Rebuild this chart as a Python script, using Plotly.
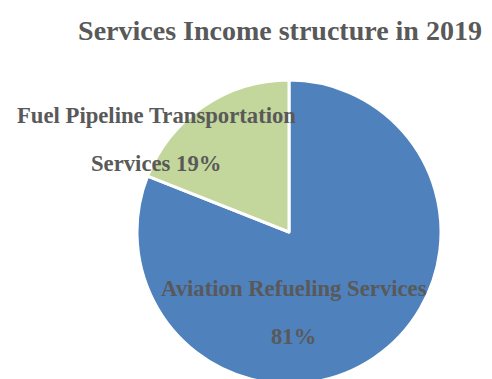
import plotly.graph_objects as go

# ---- data ----
labels = ["Aviation Refueling Services", "Fuel Pipeline Transportation Services"]
values = [81, 19]
colors = ["#4F81BD", "#C3D69B"]
label_line1 = ["Aviation Refueling Services", "Fuel Pipeline Transportation"]
label_line2 = ["81%", "Services 19%"]
title_text = "Services Income structure in 2019"

W, H = 492, 386
TXT = "#595959"
FONT = "Liberation Serif, Times New Roman, serif"

fig = go.Figure(go.Pie(
    labels=labels,
    values=values,
    marker=dict(colors=colors, line=dict(color="white", width=3)),
    sort=False,
    direction="clockwise",
    rotation=0,
    textinfo="none",
    hoverinfo="label+percent",
    showlegend=False,
    domain=dict(x=[137 / W, 441 / W], y=[(H - 384) / H, (H - 80) / H]),
))

# label positions (pixels from top-left) for line1 / line2 of each slice
pos1 = [(294, 288), (156, 116)]
pos2 = [(293, 336), (156, 164)]
anns = []
for i in range(len(labels)):
    for txt, (px, py) in ((label_line1[i], pos1[i]), (label_line2[i], pos2[i])):
        anns.append(dict(
            text=txt, x=px / W, y=(H - py) / H, xref="paper", yref="paper",
            xanchor="center", yanchor="middle", showarrow=False,
            font=dict(family=FONT, size=22.7, color=TXT, weight="bold"),
        ))

fig.update_layout(
    width=W, height=H,
    margin=dict(l=0, r=0, t=0, b=0),
    paper_bgcolor="white",
    plot_bgcolor="white",
    title=dict(text=title_text, x=280 / W, y=(H - 30) / H,
               xanchor="center", yanchor="middle",
               font=dict(family=FONT, size=28, color=TXT, weight="bold")),
    annotations=anns,
)

fig.write_html("out.html", post_script=(
    "document.body.style.margin='0';document.body.style.overflow='hidden';"
    "document.documentElement.style.overflow='hidden';"))
